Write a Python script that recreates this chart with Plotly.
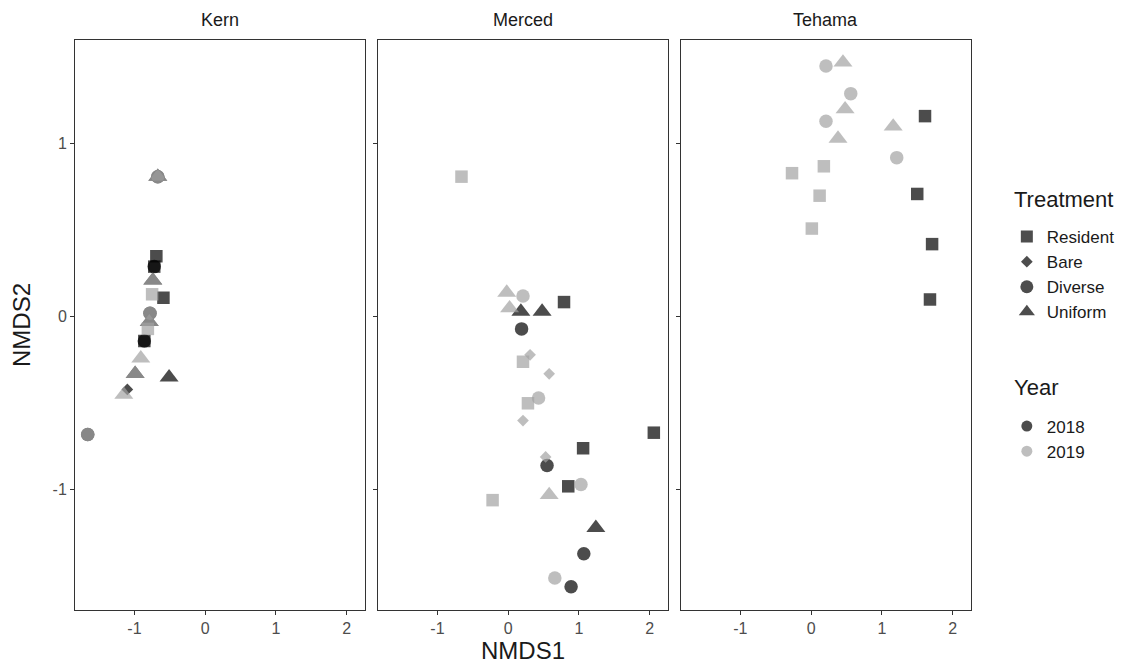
import plotly.graph_objects as go

# ---------------- data ----------------
sites = ["Kern", "Merced", "Tehama"]
treatments = ["Resident", "Bare", "Diverse", "Uniform"]
years = ["2018", "2019"]

kern_x = [-0.67, -0.67, -0.67, -0.67, -0.69, -0.72, -0.72, -0.74, -0.74, -0.75, -0.59, -0.78, -0.78,
          -0.79, -0.79, -0.81, -0.86, -0.86, -0.91, -0.99, -0.99, -0.51, -1.10, -1.15, -1.66, -1.66]
kern_y = [0.81, 0.81, 0.81, 0.81, 0.35, 0.29, 0.29, 0.21, 0.21, 0.13, 0.11, 0.02, 0.02,
          -0.03, -0.03, -0.07, -0.14, -0.14, -0.24, -0.33, -0.33, -0.35, -0.42, -0.45, -0.68, -0.68]
kern_treatment = ["Diverse", "Uniform", "Diverse", "Uniform", "Resident", "Resident", "Diverse", "Uniform", "Uniform",
                  "Resident", "Resident", "Diverse", "Diverse", "Uniform", "Uniform", "Resident", "Resident",
                  "Diverse", "Uniform", "Uniform", "Uniform", "Uniform", "Bare", "Uniform", "Diverse", "Diverse"]
kern_year = ["2018", "2018", "2019", "2019", "2018", "2018", "2018", "2018", "2019", "2019", "2018", "2018", "2019",
             "2018", "2019", "2019", "2018", "2018", "2019", "2018", "2019", "2018", "2018", "2019", "2018", "2019"]

merced_x = [-0.66, -0.02, 0.21, 0.02, 0.18, 0.48, 0.79, 0.19, 0.31, 0.21, 0.58, 0.43, 0.28,
            0.21, 2.06, 1.06, 0.53, 0.55, 1.03, 0.85, 0.58, -0.22, 1.24, 1.07, 0.66, 0.89]
merced_y = [0.81, 0.14, 0.12, 0.05, 0.03, 0.03, 0.085, -0.07, -0.22, -0.26, -0.33, -0.47, -0.50,
            -0.60, -0.67, -0.76, -0.81, -0.86, -0.97, -0.98, -1.03, -1.06, -1.22, -1.37, -1.51, -1.56]
merced_treatment = ["Resident", "Uniform", "Diverse", "Uniform", "Uniform", "Uniform", "Resident", "Diverse",
                    "Bare", "Resident", "Bare", "Diverse", "Resident", "Bare", "Resident", "Resident", "Bare",
                    "Diverse", "Diverse", "Resident", "Uniform", "Resident", "Uniform", "Diverse", "Diverse", "Diverse"]
merced_year = ["2019", "2019", "2019", "2019", "2018", "2018", "2018", "2018", "2019", "2019", "2019", "2019", "2019",
               "2019", "2018", "2018", "2019", "2018", "2019", "2018", "2019", "2019", "2018", "2018", "2019", "2018"]

tehama_x = [0.21, 0.45, 0.56, 0.48, 1.61, 0.21, 1.16, 0.38, 1.21, 0.18, -0.27, 1.50, 0.12, 0.01, 1.71, 1.68]
tehama_y = [1.45, 1.47, 1.29, 1.20, 1.16, 1.13, 1.10, 1.03, 0.92, 0.87, 0.83, 0.71, 0.70, 0.51, 0.42, 0.10]
tehama_treatment = ["Diverse", "Uniform", "Diverse", "Uniform", "Resident", "Diverse", "Uniform", "Uniform",
                    "Diverse", "Resident", "Resident", "Resident", "Resident", "Resident", "Resident", "Resident"]
tehama_year = ["2019", "2019", "2019", "2019", "2018", "2019", "2019", "2019",
               "2019", "2019", "2019", "2018", "2019", "2019", "2018", "2018"]

x_ticks = [-1, 0, 1, 2]
x_tick_labels = ["-1", "0", "1", "2"]
y_ticks = [-1, 0, 1]
y_tick_labels = ["-1", "0", "1"]

# ---------------- style ----------------
FONT = "Liberation Sans, Arial, Helvetica, sans-serif"
symbol_map = {"Resident": "square", "Bare": "diamond", "Diverse": "circle", "Uniform": "triangle-up"}
size_map = {"Resident": 12.5, "Bare": 9, "Diverse": 13.5, "Uniform": 16.5}
legend_size = {"Resident": 12, "Bare": 9, "Diverse": 13, "Uniform": 14}
year_color = {"2018": "#000000", "2019": "#a2a2a2"}
OPACITY = 0.7

site_data = {
    "Kern": (kern_x, kern_y, kern_treatment, kern_year),
    "Merced": (merced_x, merced_y, merced_treatment, merced_year),
    "Tehama": (tehama_x, tehama_y, tehama_treatment, tehama_year),
}

fig = go.Figure()
axis_ids = ["", "2", "3"]
for i, site in enumerate(sites):
    xs, ys, trs, yrs = site_data[site]
    for yr in years:
        idx = [k for k in range(len(xs)) if yrs[k] == yr]
        if not idx:
            continue
        fig.add_trace(go.Scatter(
            x=[xs[k] for k in idx], y=[ys[k] for k in idx],
            mode="markers",
            marker=dict(symbol=[symbol_map[trs[k]] for k in idx],
                        size=[size_map[trs[k]] for k in idx],
                        color=year_color[yr], opacity=OPACITY, line=dict(width=0)),
            xaxis="x" + axis_ids[i], yaxis="y" + axis_ids[i],
            showlegend=False, hoverinfo="skip",
        ))

# legend entries
for t in treatments:
    fig.add_trace(go.Scatter(
        x=[None], y=[None], mode="markers", name=t, legend="legend",
        marker=dict(symbol=symbol_map[t], size=legend_size[t], color="#4d4d4d", line=dict(width=0)),
    ))
for yr in years:
    fig.add_trace(go.Scatter(
        x=[None], y=[None], mode="markers", name=yr, legend="legend2",
        marker=dict(symbol="circle", size=11, color=year_color[yr], opacity=OPACITY, line=dict(width=0)),
    ))

# page body has an 8px margin: the figure is sized so the plot area lands where it should
W, H = 1129, 663
domains = [[0, 0.3237], [0.3382, 0.6618], [0.6763, 1.0]]
xr = [-1.84, 2.26]
yr_range = [-1.695, 1.60]
axis_common = dict(
    showgrid=False, zeroline=False, showline=True, mirror=True, automargin=False,
    linecolor="#333333", linewidth=1, ticks="outside", ticklen=4,
    tickcolor="#333333", tickwidth=1,
    tickfont=dict(family=FONT, size=16, color="#4d4d4d"),
)
layout = dict(
    width=W, height=H,
    margin=dict(l=67, r=166, t=32, b=61),
    plot_bgcolor="white", paper_bgcolor="white",
    font=dict(family=FONT, color="#1a1a1a"),
)
for i in range(3):
    xa = dict(axis_common, domain=domains[i], range=xr, tickvals=x_ticks, ticktext=x_tick_labels,
              anchor="y" + axis_ids[i])
    ya = dict(axis_common, domain=[0, 1], range=yr_range, tickvals=y_ticks, ticktext=y_tick_labels,
              anchor="x" + axis_ids[i], showticklabels=(i == 0))
    if i == 1:
        xa["title"] = dict(text="NMDS1", font=dict(family=FONT, size=24, color="#1a1a1a"), standoff=2)
    if i == 0:
        ya["title"] = dict(text="NMDS2", font=dict(family=FONT, size=24, color="#1a1a1a"), standoff=15)
    layout["xaxis" + axis_ids[i]] = xa
    layout["yaxis" + axis_ids[i]] = ya

layout["legend"] = dict(
    font=dict(family=FONT, size=17, color="#1a1a1a"),
    x=1.040, y=0.686, xanchor="left", yanchor="top", bgcolor="rgba(0,0,0,0)",
)
layout["legend2"] = dict(
    font=dict(family=FONT, size=17, color="#1a1a1a"),
    x=1.040, y=0.3535, xanchor="left", yanchor="top", bgcolor="rgba(0,0,0,0)",
)

annotations = []
for i, site in enumerate(sites):
    annotations.append(dict(
        text=site, xref="paper", yref="paper",
        x=(domains[i][0] + domains[i][1]) / 2, y=1.0, yshift=20,
        xanchor="center", yanchor="middle", showarrow=False,
        font=dict(family=FONT, size=18, color="#1a1a1a"),
    ))
# legend titles
for text, ypos in [("Treatment", 0.721), ("Year", 0.391)]:
    annotations.append(dict(
        text=text, xref="paper", yref="paper", x=1.0458, y=ypos,
        xanchor="left", yanchor="middle", showarrow=False,
        font=dict(family=FONT, size=22, color="#1a1a1a"),
    ))
layout["annotations"] = annotations

fig.update_layout(**layout)
fig.write_html("out.html")
